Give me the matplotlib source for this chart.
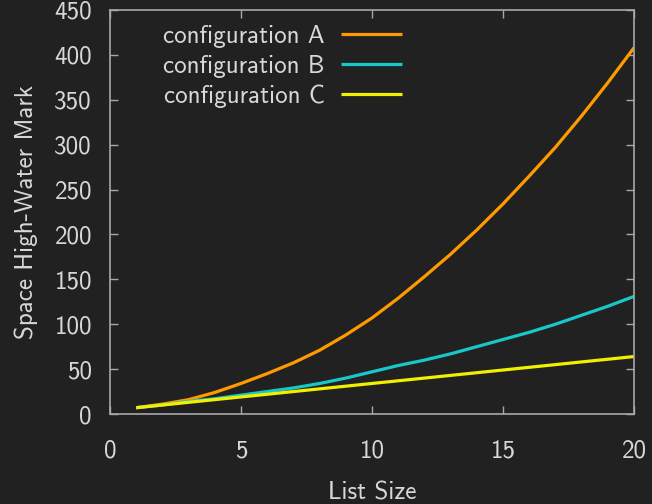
import matplotlib
matplotlib.use("Agg")
import matplotlib.pyplot as plt

list_size = list(range(1, 21))
config_a = [7, 11, 16, 24, 34, 45, 57, 71, 88, 107, 129, 153, 178, 205, 234, 265, 297, 332, 369, 408]
config_b = [7, 10, 14, 17, 21, 25, 29, 34, 40, 47, 54, 60, 67, 75, 83, 91, 100, 110, 120, 131]
config_c = [7, 10, 13, 16, 19, 22, 25, 28, 31, 34, 37, 40, 43, 46, 49, 52, 55, 58, 61, 64]
labels = ["configuration A", "configuration B", "configuration C"]
colors = ["#ff9a00", "#18c8c8", "#f0f000"]

bg = "#212121"
fg = "#d8d8d8"
axc = "#a8a8a8"

plt.rcParams['font.family'] = ['cmss10', 'DejaVu Sans']
plt.rcParams['axes.formatter.use_mathtext'] = False

fs = 18
fig = plt.figure(figsize=(6.52, 5.04), dpi=100, facecolor=bg)
ax = fig.add_axes([110/652, 90/504, 524/652, 404/504])
ax.set_facecolor(bg)

for ys, lab, c in zip([config_a, config_b, config_c], labels, colors):
    ax.plot(list_size, ys, color=c, lw=2.3, label=lab, solid_capstyle='butt')

ax.set_xlim(0, 20)
ax.set_ylim(0, 450)
ax.set_xticks([0, 5, 10, 15, 20])
ax.set_yticks(range(0, 451, 50))
for s in ax.spines.values():
    s.set_color(axc)
    s.set_linewidth(1.2)
ax.tick_params(direction='in', length=6, width=1, color=axc, labelcolor=fg,
               labelsize=fs, top=True, right=True)
ax.tick_params(axis='x', pad=18)
ax.tick_params(axis='y', pad=13)
ax.set_xlabel("List Size", color=fg, fontsize=fs, labelpad=14)
ax.set_ylabel("Space High-Water Mark", color=fg, fontsize=fs, labelpad=12)

leg = ax.legend(loc='upper left', bbox_to_anchor=(0.073, 1.0), markerfirst=False,
                frameon=False, fontsize=fs, handlelength=2.45, handletextpad=0.65,
                labelspacing=0.27, borderaxespad=0.2)
for t in leg.get_texts():
    t.set_color(fg)
    t.set_ha('right')

fig.savefig("out.png", dpi=100, facecolor=bg)
